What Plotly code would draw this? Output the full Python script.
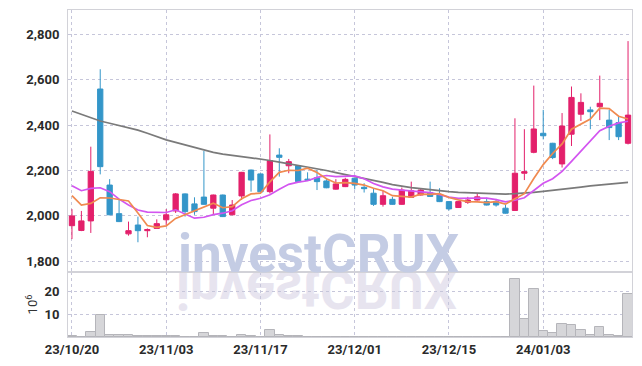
import base64
import plotly.graph_objects as go

dates = ["23/10/20", "23/10/23", "23/10/24", "23/10/25", "23/10/26", "23/10/27", "23/10/30", "23/10/31",
         "23/11/01", "23/11/02", "23/11/03", "23/11/06", "23/11/07", "23/11/08", "23/11/09", "23/11/10",
         "23/11/13", "23/11/14", "23/11/15", "23/11/16", "23/11/17", "23/11/20", "23/11/21", "23/11/22",
         "23/11/23", "23/11/24", "23/11/27", "23/11/28", "23/11/29", "23/11/30", "23/12/01", "23/12/04",
         "23/12/05", "23/12/06", "23/12/07", "23/12/08", "23/12/11", "23/12/12", "23/12/13", "23/12/14",
         "23/12/15", "23/12/18", "23/12/19", "23/12/20", "23/12/21", "23/12/22", "23/12/26", "23/12/27",
         "23/12/28", "24/01/02", "24/01/03", "24/01/04", "24/01/05", "24/01/08", "24/01/09", "24/01/10",
         "24/01/11", "24/01/12", "24/01/15", "24/01/16"]

opens = [1957, 1936, 1978, 2559, 2136, 2010, 1921, 1960, 1935, 1945,
         1983, 2022, 2097, 2053, 2083, 2034, 2092, 2005, 2088, 2202,
         2185, 2107, 2268, 2221, 2221, 2162, 2168, 2154, 2118, 2129,
         2166, 2126, 2100, 2051, 2073, 2051, 2082, 2092, 2102, 2092,
         2063, 2037, 2060, 2070, 2063, 2063, 2034, 2024, 2188, 2280,
         2364, 2320, 2229, 2360, 2448, 2467, 2481, 2422, 2411, 2320]
highs = [2030, 2022, 2305, 2646, 2162, 2072, 1975, 1997, 1945, 1985,
         2030, 2101, 2099, 2082, 2286, 2094, 2094, 2070, 2194, 2204,
         2187, 2359, 2298, 2251, 2223, 2192, 2202, 2166, 2162, 2168,
         2168, 2144, 2122, 2110, 2084, 2125, 2151, 2118, 2151, 2122,
         2065, 2065, 2084, 2100, 2080, 2075, 2048, 2430, 2382, 2574,
         2467, 2322, 2453, 2570, 2540, 2481, 2618, 2467, 2437, 2770]
lows = [1898, 1933, 1925, 2183, 2003, 1973, 1913, 1884, 1906, 1943,
        1960, 2013, 1997, 2005, 2049, 2008, 1995, 2003, 2070, 2107,
        2104, 2099, 2173, 2188, 2149, 2155, 2114, 2122, 2116, 2127,
        2117, 2103, 2044, 2041, 2049, 2049, 2080, 2090, 2084, 2061,
        2024, 2035, 2053, 2068, 2046, 2041, 2010, 2022, 2158, 2276,
        2337, 2250, 2213, 2308, 2418, 2382, 2422, 2334, 2334, 2315]
closes = [2000, 1978, 2196, 2217, 2005, 1975, 1935, 1935, 1940, 1966,
          2005, 2097, 2019, 2019, 2051, 2092, 1997, 2048, 2192, 2158,
          2106, 2244, 2258, 2239, 2151, 2157, 2151, 2124, 2141, 2161,
          2136, 2120, 2051, 2089, 2051, 2114, 2111, 2114, 2086, 2063,
          2031, 2063, 2070, 2084, 2048, 2048, 2012, 2188, 2195, 2383,
          2353, 2257, 2396, 2522, 2500, 2459, 2496, 2389, 2349, 2444]

ma5 = [2089, 2048, 2055, 2080, 2079, 2074, 2066, 2013, 1958, 1950,
       1956, 1989, 2005, 2021, 2038, 2056, 2036, 2041, 2076, 2097,
       2100, 2150, 2192, 2201, 2200, 2210, 2191, 2164, 2145, 2147,
       2143, 2136, 2122, 2111, 2089, 2085, 2083, 2096, 2095, 2098,
       2081, 2071, 2063, 2062, 2059, 2063, 2052, 2076, 2098, 2165,
       2226, 2275, 2317, 2382, 2406, 2427, 2475, 2473, 2439, 2427]
ma10 = [2133, 2111, 2121, 2124, 2107, 2074, 2048, 2026, 2017, 2015,
        2015, 2027, 2009, 1990, 1994, 2006, 2012, 2023, 2049, 2068,
        2078, 2093, 2117, 2139, 2149, 2155, 2170, 2178, 2173, 2173,
        2176, 2164, 2143, 2128, 2118, 2114, 2110, 2109, 2103, 2094,
        2083, 2077, 2079, 2079, 2078, 2072, 2062, 2069, 2080, 2112,
        2144, 2164, 2196, 2240, 2285, 2327, 2375, 2395, 2410, 2417]
ma_long = [2462, 2447, 2431, 2418, 2408, 2399, 2390, 2378, 2364, 2349,
           2335, 2324, 2313, 2300, 2290, 2280, 2272, 2265, 2261, 2256,
           2251, 2244, 2237, 2230, 2223, 2215, 2207, 2200, 2191, 2183,
           2175, 2167, 2158, 2148, 2138, 2130, 2125, 2120, 2115, 2110,
           2107, 2104, 2102, 2100, 2099, 2097, 2096, 2098, 2100, 2104,
           2108, 2112, 2117, 2122, 2127, 2132, 2136, 2139, 2143, 2148]

volume_m = [0.3, 0.1, 2.0, 9.9, 0.7, 0.7, 0.7, 0.3, 0.3, 0.3,
            0.3, 0.3, 0.1, 0.1, 1.6, 0.3, 0.3, 0.1, 0.7, 0.3,
            0.1, 3.0, 1.1, 0.3, 0.3, 0.1, 0.1, 0.1, 0.1, 0.1,
            0.1, 0.1, 0.1, 0.1, 0.1, 0.1, 0.1, 0.1, 0.1, 0.1,
            0.1, 0.1, 0.1, 0.1, 0.1, 0.1, 0.1, 25.7, 8.0, 21.3,
            2.6, 1.6, 5.9, 5.4, 2.9, 0.8, 4.2, 0.8, 0.4, 19.1]

x_ticks = ["23/10/20", "23/11/03", "23/11/17", "23/12/01", "23/12/15", "24/01/03"]
price_ticks = [1800, 2000, 2200, 2400, 2600, 2800]
vol_ticks = [10, 20]

UP = "#e3206b"
DOWN = "#3496c9"
GRID = "#c6c6da"
FRAME = "#d2d2d8"
TICKFONT = dict(family="Roboto", size=13, color="#2a2a2a", weight="bold")

fig = go.Figure()

fig.add_trace(go.Bar(
    x=dates, y=volume_m, xaxis="x", yaxis="y2",
    marker=dict(color="#d6d6d9", line=dict(color="#b5b5ba", width=1)),
    showlegend=False, hoverinfo="skip",
))

fig.add_trace(go.Candlestick(
    x=dates, open=opens, high=highs, low=lows, close=closes,
    xaxis="x2", yaxis="y",
    increasing=dict(line=dict(color=UP, width=1), fillcolor=UP),
    decreasing=dict(line=dict(color=DOWN, width=1), fillcolor=DOWN),
    whiskerwidth=0, showlegend=False,
))

for vals, col, w in [(ma_long, "#7a7a7a", 1.7), (ma10, "#d355f0", 1.7), (ma5, "#f08a50", 1.7)]:
    fig.add_trace(go.Scatter(
        x=dates, y=vals, mode="lines", xaxis="x2", yaxis="y",
        line=dict(color=col, width=w), showlegend=False, hoverinfo="skip",
    ))

split = 65 / 327

xcommon = dict(
    type="category", range=[-0.42, 59.42], tickvals=x_ticks, ticktext=x_ticks,
    showgrid=True, gridcolor=GRID, griddash="dot", gridwidth=1,
    showline=True, linecolor=FRAME, linewidth=1, mirror=True,
    zeroline=False, fixedrange=True, automargin=False,
)

# the page body adds an 8px offset, so the figure is 8px smaller with shifted margins
fig.update_layout(
    width=634, height=358,
    margin=dict(l=60, r=10, t=2, b=29),
    paper_bgcolor="white", plot_bgcolor="white",
    bargap=0.0, boxgap=0.2,
    xaxis=dict(**xcommon, anchor="y2", domain=[0, 1], tickfont=TICKFONT, ticks="", ticklabelstandoff=0),
    xaxis2=dict(**xcommon, anchor="y", domain=[0, 1], matches="x", showticklabels=False,
                rangeslider=dict(visible=False)),
    yaxis=dict(domain=[split, 1], anchor="x2", range=[1753, 2907], tickvals=price_ticks,
               tickformat=",", tickfont=TICKFONT, showgrid=True, gridcolor=GRID, griddash="dot",
               showline=True, linecolor=FRAME, mirror=True, zeroline=False, ticks="",
               ticklabelstandoff=5, automargin=False),
    yaxis2=dict(domain=[0, split], anchor="x", range=[0, 28.6], tickvals=vol_ticks,
                tickfont=TICKFONT, showgrid=True, gridcolor=GRID, griddash="dot",
                showline=True, linecolor=FRAME, mirror=True, zeroline=False, ticks="",
                ticklabelstandoff=5, automargin=False,
                title=dict(text="10<sup>6</sup>", font=dict(family="Roboto", size=13, color="#333333"),
                           standoff=3)),
)

# watermark
fig.add_annotation(
    text="investCRUX", xref="paper", yref="paper", x=(176 - 68) / 564, y=split,
    xanchor="left", yanchor="bottom", showarrow=False,
    font=dict(family="Roboto", size=53, color="#c4cce4", weight="bold"),
    yshift=-15,
)

svg = ('<svg xmlns="http://www.w3.org/2000/svg" width="300" height="60">'
       '<text x="0" y="0" transform="scale(1,-1)" font-family="Roboto" font-weight="bold" '
       'font-size="53" fill="#e7e4ef">investCRUX</text></svg>')
src = "data:image/svg+xml;base64," + base64.b64encode(svg.encode()).decode()
fig.add_layout_image(
    source=src, xref="paper", yref="paper", x=(176 - 68) / 564, y=split + 1 / 327,
    sizex=300 / 564, sizey=60 / 327, xanchor="left", yanchor="top",
    sizing="stretch", layer="below",
)

fig.write_html("out.html")
